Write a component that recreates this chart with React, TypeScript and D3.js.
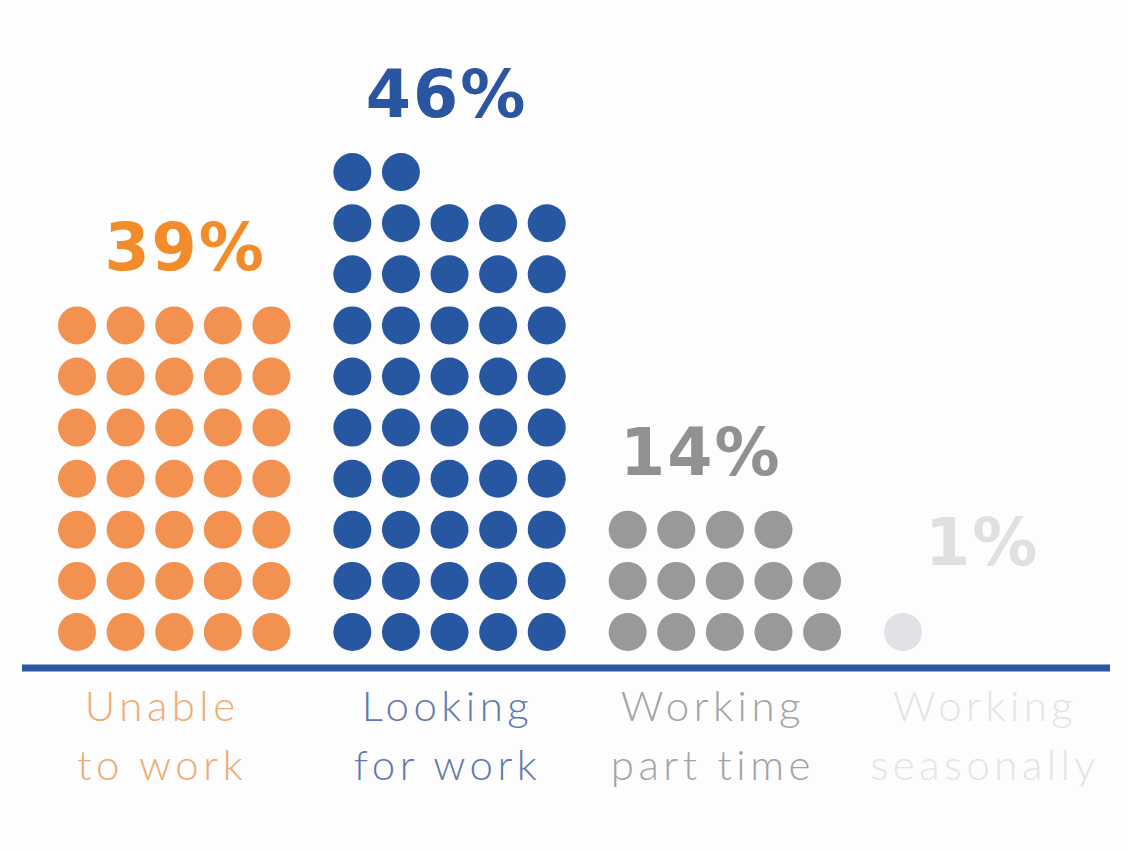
import React from "react";
import * as d3 from "d3";

const categories = ["Unable to work", "Looking for work", "Working part time", "Working seasonally"];
const labelLines = [["Unable", "to work"], ["Looking", "for work"], ["Working", "part time"], ["Working", "seasonally"]];
const percentLabels = ["39%", "46%", "14%", "1%"];
const dotCounts = [35, 47, 14, 1];

const dotColors = ["#f29150", "#2757a1", "#999999", "#e2e2e6"];
const valueColors = ["#f28c2a", "#2a55a0", "#919191", "#e0e0e0"];
const catColors = ["#efab72", "#5f79ae", "#a3a3a3", "#e4e4e4"];

const W = 1127;
const H = 851;
const PER_ROW = 5;

export default function App() {
  const groupX = d3.scalePoint<string>().domain(categories).range([77, 903]);
  const colX = d3.scaleLinear().domain([0, 1]).range([0, 48.6]);
  const rowY = d3.scaleLinear().domain([0, 1]).range([632, 580.9]);
  const r = 19;
  const valueNudge = [11, -3, -24, -18];
  const catCenterNudge = [-12, -2, -12, -15];

  return (
    <div style={{ position: "fixed", left: 0, top: 0 }}>
      <svg width={W} height={H} style={{ display: "block", background: "#fdfdfd" }}>
        {categories.map((c, i) => {
          const x0 = groupX(c)!;
          const n = dotCounts[i];
          const rows = Math.ceil(n / PER_ROW);
          const dots = d3.range(n).map((k) => ({ row: Math.floor(k / PER_ROW), col: k % PER_ROW }));
          const groupCenter = x0 + colX(PER_ROW - 1) / 2;
          const topY = rowY(rows - 1);
          return (
            <g key={c}>
              {dots.map((d, k) => (
                <circle key={k} cx={x0 + colX(d.col)} cy={rowY(d.row)} r={r} fill={dotColors[i]} />
              ))}
              <text
                x={groupCenter + valueNudge[i]}
                y={topY - (i === 3 ? 67 : 55)}
                textAnchor="middle"
                fontFamily="'DejaVu Sans', sans-serif"
                fontWeight={700}
                fontSize={65}
                letterSpacing={2}
                fill={valueColors[i]}
              >
                {percentLabels[i]}
              </text>
              {labelLines[i].map((t, j) => (
                <text
                  key={j}
                  x={groupCenter + catCenterNudge[i]}
                  y={721 + j * 59}
                  textAnchor="middle"
                  fontFamily="Lato, 'DejaVu Sans', sans-serif"
                  fontWeight={300}
                  fontSize={42}
                  letterSpacing={4.5}
                  fill={catColors[i]}
                >
                  {t}
                </text>
              ))}
            </g>
          );
        })}
        <line x1={22} x2={1110} y1={668} y2={668} stroke="#2a56a2" strokeWidth={7} />
      </svg>
    </div>
  );
}
